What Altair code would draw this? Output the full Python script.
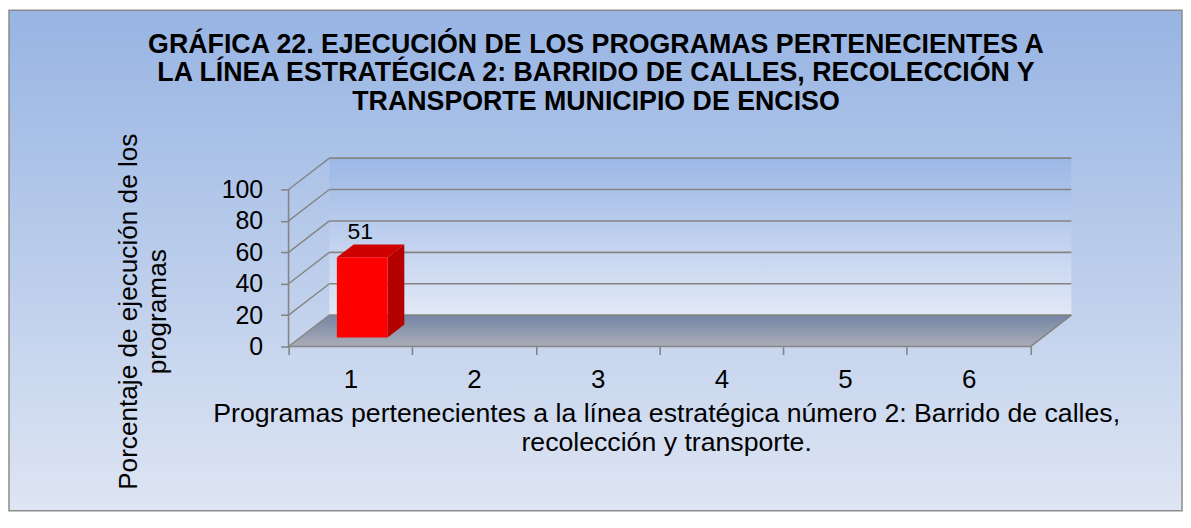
import altair as alt
import pandas as pd

# ---------------- data ----------------
categories = [1, 2, 3, 4, 5, 6]
values = [51, None, None, None, None, None]
y_ticks = [0, 20, 40, 60, 80, 100]

title_lines = [
    "GRÁFICA 22. EJECUCIÓN DE LOS PROGRAMAS PERTENECIENTES A",
    "LA LÍNEA ESTRATÉGICA 2: BARRIDO DE CALLES, RECOLECCIÓN Y",
    "TRANSPORTE MUNICIPIO DE ENCISO",
]
x_title = [
    "Programas pertenecientes a la línea estratégica número 2: Barrido de calles,",
    "recolección y transporte.",
]
y_title = ["Porcentaje de ejecución de los", "programas"]

# ---------------- geometry / style ----------------
FONT = "Liberation Sans"
GRID = "#858585"
DX, DY = 0.33, 20.0        # depth offset of the 3D box (category units, value units)
BW = 0.41                  # bar width (category units)
D0, D1 = 0.29, 0.70        # bar front / back depth fraction
N = len(categories)
VMAX = max(y_ticks)
W, H = 788, 191
PL, PT = 282, 148
SVG_W, SVG_H = 1181, 505

xscale = alt.Scale(domain=[0, 6.34], nice=False, zero=False)
yscale = alt.Scale(domain=[0, 121], nice=False, zero=False)

xaxis = alt.Axis(
    values=list(range(N + 1)), tickSize=8, tickColor=GRID, tickWidth=1.6,
    labelExpr="datum.value < 6 ? toString(datum.value + 1) : ''",
    labelOffset=62.15, labelPadding=33, labelBaseline="alphabetic",
    labelFontSize=26, labelFont=FONT, labelColor="black",
    labelFlush=False, labelOverlap=False, domain=False, grid=False,
    title=x_title, titleFontSize=26.8, titleFont=FONT, titleFontWeight="normal",
    titleColor="black", titleX=379.5, titleY=75, titleAlign="center",
    titleBaseline="alphabetic", titleLineHeight=29, zindex=1,
)
yaxis = alt.Axis(
    values=y_ticks, tickSize=8, tickColor=GRID, tickWidth=1.6,
    labelFontSize=25, labelFont=FONT, labelColor="black", labelPadding=18,
    labelFlush=False, labelOverlap=False, domain=False, grid=False,
    title=y_title, titleFontSize=26.3, titleFont=FONT, titleFontWeight="normal",
    titleColor="black", titleAngle=270, titleX=-153, titleY=155.5,
    titleAlign="center", titleBaseline="alphabetic", titleLineHeight=29, zindex=1,
)

def X(f="x"):
    return alt.X(f"{f}:Q", scale=xscale, axis=xaxis)

def Y(f="y"):
    return alt.Y(f"{f}:Q", scale=yscale, axis=yaxis)

def grad(c0, c1):
    return alt.Gradient(gradient="linear",
                        stops=[alt.GradientStop(color=c0, offset=0),
                               alt.GradientStop(color=c1, offset=1)],
                        x1=0, x2=0, y1=0, y2=1)

# ---------------- derived tables ----------------
wall = pd.DataFrame({"x": [DX], "x2": [N + DX], "y": [DY], "y2": [VMAX + DY]})
floor = pd.DataFrame({"y": [0, DY], "x": [0, DX], "x2": [N, N + DX]})
back_grid = pd.DataFrame({"x": [DX] * len(y_ticks), "x2": [N + DX] * len(y_ticks),
                          "y": [v + DY for v in y_ticks], "y2": [v + DY for v in y_ticks]})
diag = pd.DataFrame({"x": [0] * len(y_ticks), "x2": [DX] * len(y_ticks),
                     "y": y_ticks, "y2": [v + DY for v in y_ticks]})
edges = pd.DataFrame({
    "x":  [0, N, 0],
    "x2": [N, N + DX, 0],
    "y":  [0, 0, 0],
    "y2": [0, DY, VMAX],
})

front_rows, side_rows, top_rows, lab_rows = [], [], [], []
for i, (c, v) in enumerate(zip(categories, values)):
    if v is None:
        continue
    cx = i + 0.5
    xl0, xr0 = cx - BW / 2 + D0 * DX, cx + BW / 2 + D0 * DX
    xl1, xr1 = cx - BW / 2 + D1 * DX, cx + BW / 2 + D1 * DX
    front_rows.append({"cat": c, "x": xl0, "x2": xr0, "y": D0 * DY, "y2": v + D0 * DY})
    side_rows += [{"cat": c, "x": xr0, "y": D0 * DY, "y2": v + D0 * DY},
                  {"cat": c, "x": xr1, "y": D1 * DY, "y2": v + D1 * DY}]
    top_rows += [{"cat": c, "y": v + D0 * DY, "x": xl0, "x2": xr0},
                 {"cat": c, "y": v + D1 * DY, "x": xl1, "x2": xr1}]
    lab_rows.append({"cat": c, "x": cx + D0 * DX, "y": v + D1 * DY, "label": str(v)})

front = pd.DataFrame(front_rows)
side = pd.DataFrame(side_rows)
top = pd.DataFrame(top_rows)
labels = pd.DataFrame(lab_rows)

# ---------------- layers ----------------
one = pd.DataFrame({"k": [0]})

bg = alt.Chart(one).mark_rect(
    fill=grad("#97b4e3", "#dee5f3"), stroke="#8c8c8c", strokeWidth=1.5
).encode(x=alt.value(-PL + 1), x2=alt.value(SVG_W - PL - 1),
         y=alt.value(-PT + 1), y2=alt.value(SVG_H - PT - 1))

title_l = alt.Chart(one).mark_text(
    font=FONT, fontSize=26.9, fontWeight="bold", color="black",
    align="center", baseline="top", lineHeight=28.5, lineBreak="\n",
).encode(x=alt.value(309), y=alt.value(-125), text=alt.value("\n".join(title_lines)))

wall_l = alt.Chart(wall).mark_rect(fill=grad("#9cb8e6", "#e2e8f6")).encode(
    x=X(), x2="x2:Q", y=Y(), y2="y2:Q")

floor_l = alt.Chart(floor).mark_area(orient="horizontal", fill=grad("#7585a5", "#aaadb7")).encode(
    y=Y(), x=X(), x2="x2:Q")

grid_l = alt.Chart(back_grid).mark_rule(color=GRID, strokeWidth=1.6).encode(
    x=X(), x2="x2:Q", y=Y(), y2="y2:Q")

diag_l = alt.Chart(diag).mark_rule(color=GRID, strokeWidth=1.4).encode(
    x=X(), x2="x2:Q", y=Y(), y2="y2:Q")

edge_l = alt.Chart(edges).mark_rule(color=GRID, strokeWidth=1.6).encode(
    x=X(), x2="x2:Q", y=Y(), y2="y2:Q")

side_l = alt.Chart(side).mark_area(orient="vertical", fill="#b50000").encode(
    x=X(), y=Y(), y2="y2:Q", detail="cat:N")

top_l = alt.Chart(top).mark_area(orient="horizontal", fill="#cf0000").encode(
    y=Y(), x=X(), x2="x2:Q", detail="cat:N")

front_l = alt.Chart(front).mark_rect(fill="#ff0000").encode(
    x=X(), x2="x2:Q", y=Y(), y2="y2:Q")

label_l = alt.Chart(labels).mark_text(
    font=FONT, fontSize=23, color="black", baseline="alphabetic", align="center", dx=-2, dy=-6
).encode(x=X(), y=Y(), text="label:N")

chart = alt.layer(
    bg, title_l, wall_l, floor_l, grid_l, diag_l, edge_l, side_l, top_l, front_l, label_l
).properties(
    width=W, height=H,
    autosize=alt.AutoSizeParams(type="none"),
    padding={"left": PL, "top": PT, "right": SVG_W - PL - W, "bottom": SVG_H - PT - H},
).configure_view(stroke=None)

chart.save("out.html", embed_options={"renderer": "svg", "actions": False})
